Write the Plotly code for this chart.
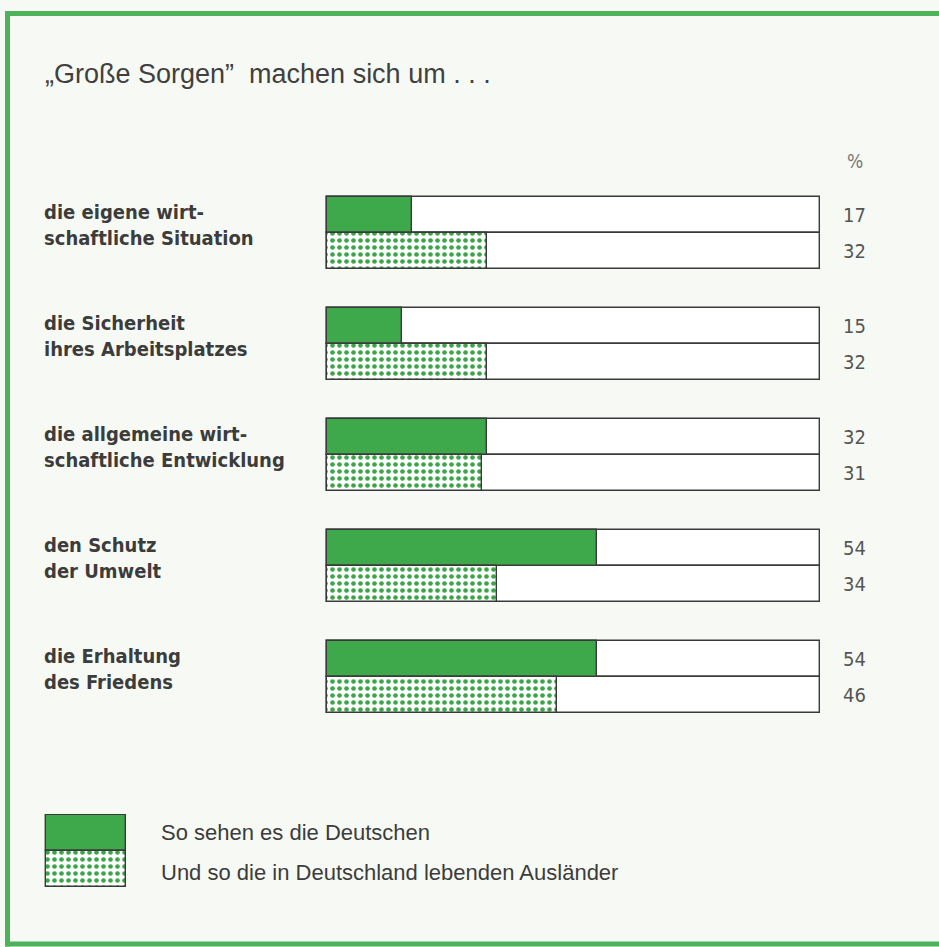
import plotly.graph_objects as go

# ---------------- data ----------------
categories = [
    "die eigene wirt-<br>schaftliche Situation",
    "die Sicherheit<br>ihres Arbeitsplatzes",
    "die allgemeine wirt-<br>schaftliche Entwicklung",
    "den Schutz<br>der Umwelt",
    "die Erhaltung<br>des Friedens",
]
deutsche = [17, 15, 32, 54, 54]
auslaender = [32, 32, 31, 34, 46]
series_names = ["So sehen es die Deutschen", "Und so die in Deutschland lebenden Ausländer"]
title_text = "„Große Sorgen”  machen sich um . . ."
unit_label = "%"

# ---------------- layout helpers ----------------
W, H = 939, 947
def px(x):
    return x / W
def py(y):
    return 1 - y / H

GREEN = "#3ea94b"
DOT = "#3aa648"
EDGE = "#3a3a3a"
TEXT = "#3c3c3c"
FRAME = "#4cb35a"
NARROW = "Liberation Sans Narrow, DejaVu Sans Condensed, sans-serif"
FULL = 98.6           # outline box length in % units (5 px per %)
PITCH = 111 / 36      # group pitch in bar-height units
n = len(categories)
y_de = [g * PITCH + 0.5 for g in range(n)]
y_au = [g * PITCH + 1.5 for g in range(n)]
y_max = (n - 1) * PITCH + 2

fig = go.Figure()

dot_pattern = dict(shape=".", fgcolor=DOT, bgcolor="white", size=7, solidity=0.35, fillmode="replace")

# outline boxes
fig.add_trace(go.Bar(
    x=[FULL] * (2 * n), y=y_de + y_au, orientation="h", width=1,
    marker=dict(color="white", line=dict(color=EDGE, width=1.4)),
    hoverinfo="skip", showlegend=False))
# Deutsche
fig.add_trace(go.Bar(
    x=deutsche, y=y_de, orientation="h", width=1, name=series_names[0],
    marker=dict(color=GREEN, line=dict(color=EDGE, width=1.4)), showlegend=False))
# Ausländer (dotted)
fig.add_trace(go.Bar(
    x=auslaender, y=y_au, orientation="h", width=1, name=series_names[1],
    marker=dict(color="white", line=dict(color=EDGE, width=1.4), pattern=dot_pattern),
    showlegend=False))

# legend swatches (second subplot)
fig.add_trace(go.Bar(
    x=[1], y=[0], orientation="h", width=1, xaxis="x2", yaxis="y2",
    marker=dict(color=GREEN, line=dict(color=EDGE, width=1.4)),
    hoverinfo="skip", showlegend=False))
fig.add_trace(go.Bar(
    x=[1], y=[1], orientation="h", width=1, xaxis="x2", yaxis="y2",
    marker=dict(color="white", line=dict(color=EDGE, width=1.4), pattern=dot_pattern),
    hoverinfo="skip", showlegend=False))

pad_x = 1.0
pad_y = 0.25
unit_px = 36
x0_px, x1_px = 327 - pad_x * 5, 820 + pad_x * 5
y0_px, y1_px = 197 - pad_y * unit_px, 713 + pad_y * unit_px

annotations = []
# title
annotations.append(dict(x=px(43), y=py(74), xref="paper", yref="paper",
                        text=title_text, showarrow=False, xanchor="left", yanchor="middle",
                        font=dict(family="Liberation Sans, Arial, sans-serif", size=27, color="#404040")))
# % label
annotations.append(dict(x=px(855), y=py(161), xref="paper", yref="paper",
                        text=unit_label, showarrow=False, xanchor="center", yanchor="middle",
                        font=dict(family=NARROW, size=19, color="#777")))
# category labels
for g, cat in enumerate(categories):
    annotations.append(dict(x=px(42), y=g * PITCH + 1.0, xref="paper", yref="y",
                            text=cat, showarrow=False, xanchor="left", yanchor="middle",
                            align="left", yshift=8,
                            font=dict(family=NARROW, size=20, color=TEXT, weight="bold")))
# values
for yv, v in list(zip(y_de, deutsche)) + list(zip(y_au, auslaender)):
    annotations.append(dict(x=px(854), y=yv, xref="paper", yref="y",
                            text=str(v), showarrow=False, xanchor="center", yanchor="middle",
                            font=dict(family=NARROW, size=20, color="#555")))
# legend texts
for i, name in enumerate(series_names):
    annotations.append(dict(x=px(159), y=py(832 + 40 * i), xref="paper", yref="paper",
                            text=name, showarrow=False, xanchor="left", yanchor="middle",
                            font=dict(family="Liberation Sans, Arial, sans-serif", size=22, color=TEXT)))

shapes = [
    # frame: left, top, bottom (open to the right)
    dict(type="line", xref="paper", yref="paper", x0=px(7.5), x1=px(7.5), y0=py(11), y1=py(946.5),
         line=dict(color=FRAME, width=5), layer="below"),
    dict(type="line", xref="paper", yref="paper", x0=px(5), x1=1, y0=py(13.5), y1=py(13.5),
         line=dict(color=FRAME, width=5), layer="below"),
    dict(type="line", xref="paper", yref="paper", x0=px(5), x1=1, y0=py(944), y1=py(944),
         line=dict(color=FRAME, width=5), layer="below"),
]

fig.update_layout(
    width=W, height=H,
    margin=dict(l=0, r=0, t=0, b=0),
    paper_bgcolor="#f7faf4", plot_bgcolor="rgba(0,0,0,0)",
    barmode="overlay", bargap=0,
    showlegend=False,
    xaxis=dict(domain=[px(x0_px), px(x1_px)], range=[-pad_x, FULL + pad_x],
               visible=False, fixedrange=True),
    yaxis=dict(domain=[py(y1_px), py(y0_px)], range=[y_max + pad_y, -pad_y],
               visible=False, fixedrange=True),
    xaxis2=dict(domain=[px(44), px(128)], range=[-0.02, 1.02], visible=False,
                anchor="y2", fixedrange=True),
    yaxis2=dict(domain=[py(888), py(814)], range=[1.53, -0.53], visible=False,
                anchor="x2", fixedrange=True),
    annotations=annotations,
    shapes=shapes,
)

fig.write_html("out.html", config={"displayModeBar": False},
               post_script="document.body.style.margin='0px';")
